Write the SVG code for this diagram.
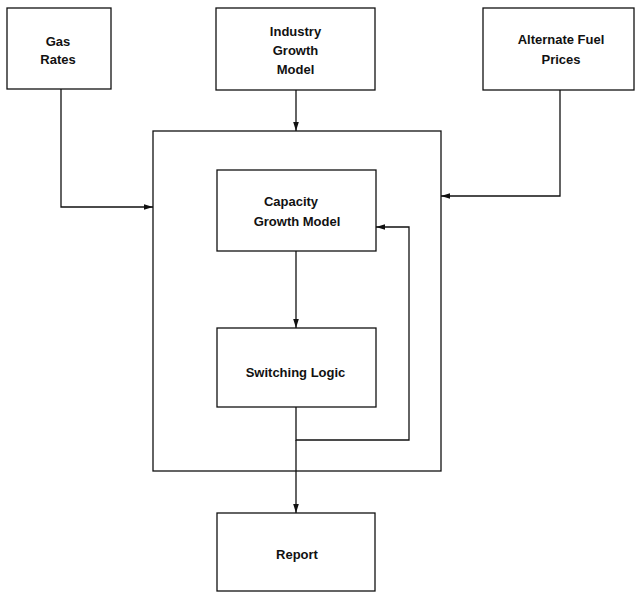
<svg xmlns="http://www.w3.org/2000/svg" width="636" height="592" viewBox="0 0 636 592">
  <defs>
    <style>
      .box { fill: #ffffff; stroke: #111111; stroke-width: 1.3; }
      .frame { fill: none; stroke: #111111; stroke-width: 1.3; }
      .wire { fill: none; stroke: #111111; stroke-width: 1.3; }
      .lbl { font-family: "Liberation Sans", Arial, sans-serif; font-weight: bold; font-size: 13px; fill: #111111; text-anchor: middle; }
    </style>
    <marker id="arrow" markerWidth="10" markerHeight="8" refX="9" refY="4" orient="auto" markerUnits="userSpaceOnUse">
      <path d="M0,1.2 L9,4 L0,6.8 Z" fill="#111111"/>
    </marker>
  </defs>

  <rect width="636" height="592" fill="#ffffff"/>

  <!-- enclosing model frame -->
  <g id="model-frame">
    <rect class="frame" x="153" y="131" width="288" height="340"/>
  </g>

  <g id="gas-rates">
    <rect class="box" x="7" y="8" width="104" height="81"/>
    <text class="lbl" x="58" y="46">Gas</text>
    <text class="lbl" x="58" y="64">Rates</text>
  </g>

  <g id="industry-growth-model">
    <rect class="box" x="216" y="8" width="159" height="82"/>
    <text class="lbl" x="295.5" y="36">Industry</text>
    <text class="lbl" x="295.5" y="55">Growth</text>
    <text class="lbl" x="295.5" y="74">Model</text>
  </g>

  <g id="alternate-fuel-prices">
    <rect class="box" x="483" y="8" width="151" height="82"/>
    <text class="lbl" x="561" y="44">Alternate Fuel</text>
    <text class="lbl" x="561" y="64">Prices</text>
  </g>

  <g id="capacity-growth-model">
    <rect class="box" x="217" y="170" width="159" height="81"/>
    <text class="lbl" x="291" y="206">Capacity</text>
    <text class="lbl" x="297" y="226">Growth Model</text>
  </g>

  <g id="switching-logic">
    <rect class="box" x="217" y="328" width="159" height="79"/>
    <text class="lbl" x="295.5" y="377">Switching Logic</text>
  </g>

  <g id="report">
    <rect class="box" x="217" y="513" width="158" height="78"/>
    <text class="lbl" x="297" y="559">Report</text>
  </g>

  <g id="connectors">
    <polyline class="wire" points="61,89 61,207 153,207" marker-end="url(#arrow)"/>
    <line class="wire" x1="296" y1="90" x2="296" y2="131" marker-end="url(#arrow)"/>
    <polyline class="wire" points="560,90 560,196 441,196" marker-end="url(#arrow)"/>
    <line class="wire" x1="296" y1="251" x2="296" y2="328" marker-end="url(#arrow)"/>
    <polyline class="wire" points="296,407 296,440 409,440 409,227 376,227" marker-end="url(#arrow)"/>
    <line class="wire" x1="296" y1="440" x2="296" y2="513" marker-end="url(#arrow)"/>
  </g>
</svg>
